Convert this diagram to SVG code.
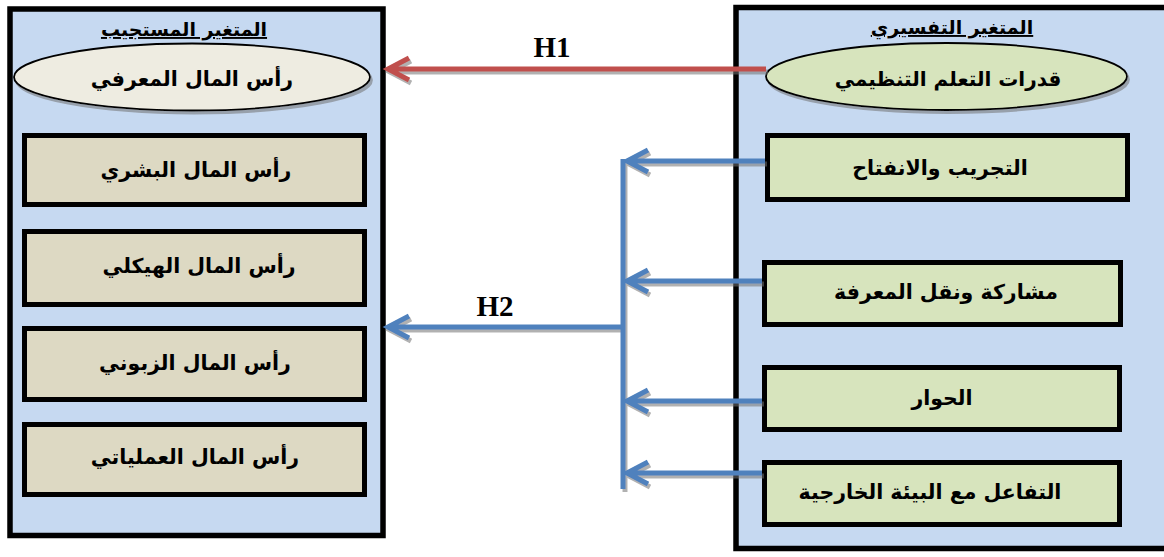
<svg xmlns="http://www.w3.org/2000/svg" width="1164" height="557" viewBox="0 0 1164 557">
<style>
.cont{fill:#c6d9f1;stroke:#000;stroke-width:5.5}
.boxL{fill:#ddd9c3;stroke:#000;stroke-width:5}
.boxR{fill:#d7e4bd;stroke:#000;stroke-width:5}
.ell{stroke:#000;stroke-width:1.8}
.ar{font-family:"DejaVu Sans",sans-serif;font-weight:bold;fill:#000;text-anchor:middle}
.t{font-size:19px;text-decoration:underline}
.lb{font-size:20.5px}
.h{font-family:"Liberation Serif",serif;font-weight:bold;font-size:29px;text-anchor:middle;fill:#000}
.red{stroke:#c0504d;stroke-width:5;fill:none}
.blue{stroke:#4f81bd;stroke-width:5;fill:none}
</style>
<defs>
<filter id="sh" x="-10%" y="-20%" width="130%" height="160%">
<feDropShadow dx="2" dy="3" stdDeviation="0.6" flood-color="#6f6f6f" flood-opacity="0.55"/>
</filter>
</defs>
<rect width="1164" height="557" fill="#fff"/>
<g id="left-container">
<rect class="cont" x="10" y="9" width="373" height="526.5"/>
<text class="ar t" x="184" y="36" direction="rtl">المتغير المستجيب</text>
</g>
<g id="right-container">
<rect class="cont" x="736" y="7.5" width="440" height="541"/>
<text class="ar t" x="952" y="34" direction="rtl">المتغير التفسيري</text>
</g>
<g id="node-knowledge-capital">
<ellipse class="ell" cx="192" cy="77" rx="178" ry="33.5" fill="#eeece1" filter="url(#sh)"/>
<text class="ar" x="192" y="86" font-size="20.5" direction="rtl">رأس المال المعرفي</text>
</g>
<g id="node-learning-capabilities">
<ellipse class="ell" cx="946.5" cy="76.5" rx="180.5" ry="33.5" fill="#d7e4bd" filter="url(#sh)"/>
<text class="ar" x="948" y="86" font-size="20" direction="rtl">قدرات التعلم التنظيمي</text>
</g>
<g id="node-human-capital">
<rect class="boxL" x="24.5" y="135.5" width="340" height="69"/>
<text class="ar lb" x="196" y="177" direction="rtl">رأس المال البشري</text>
</g>
<g id="node-structural-capital">
<rect class="boxL" x="24.5" y="231.5" width="340" height="73"/>
<text class="ar lb" x="199" y="273" direction="rtl">رأس المال الهيكلي</text>
</g>
<g id="node-customer-capital">
<rect class="boxL" x="24.5" y="328.5" width="340" height="71"/>
<text class="ar lb" x="195" y="370" direction="rtl">رأس المال الزبوني</text>
</g>
<g id="node-operational-capital">
<rect class="boxL" x="24.5" y="424.5" width="340" height="70"/>
<text class="ar lb" x="195" y="464" direction="rtl">رأس المال العملياتي</text>
</g>
<g id="node-experimentation">
<rect class="boxR" x="767.5" y="135.5" width="360" height="64"/>
<text class="ar lb" x="940" y="175" font-size="21.5" direction="rtl">التجريب والانفتاح</text>
</g>
<g id="node-knowledge-sharing">
<rect class="boxR" x="764.5" y="262.5" width="356" height="62"/>
<text class="ar lb" x="946" y="299" direction="rtl">مشاركة ونقل المعرفة</text>
</g>
<g id="node-dialogue">
<rect class="boxR" x="764.5" y="367.5" width="355" height="62"/>
<text class="ar lb" x="942" y="405" direction="rtl">الحوار</text>
</g>
<g id="node-external-interaction">
<rect class="boxR" x="764.5" y="462.5" width="355" height="62"/>
<text class="ar lb" x="930" y="499" direction="rtl">التفاعل مع البيئة الخارجية</text>
</g>
<g id="connectors" filter="url(#sh)">
<path class="red" d="M766 69 H388 M409 58 L388 69 L409 80"/>
<path class="blue" d="M765 161 H627 M648 150 L627 161 L648 172"/>
<path class="blue" d="M762 281 H627 M648 270 L627 281 L648 292"/>
<path class="blue" d="M762 401 H627 M648 390 L627 401 L648 412"/>
<path class="blue" d="M762 473 H627 M648 462 L627 473 L648 484"/>
<path class="blue" d="M623 159 V489"/>
<path class="blue" d="M623 327 H388 M409 316 L388 327 L409 338"/>
</g>
<g id="labels">
<text class="h" x="552" y="57">H1</text>
<text class="h" x="495" y="316">H2</text>
</g>
</svg>
